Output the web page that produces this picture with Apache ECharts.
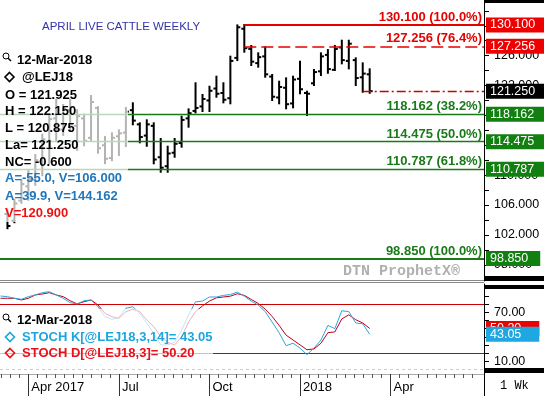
<!DOCTYPE html>
<html><head><meta charset="utf-8">
<script src="https://cdn.jsdelivr.net/npm/echarts@6/dist/echarts.min.js"></script>
<style>html,body{margin:0;padding:0;background:#fff}#c{width:544px;height:396px}</style>
</head><body><div id="c"></div>
<script>
// weeks relative to the week of 1-Jan-2018
const weeks  = [-42,-41,-40,-39,-38,-37,-36,-35,-34,-33,-32,-31,-30,-29,-28,-27,-26,-25,-24,-23,-22,-21,-20,-19,-18,-17,-16,-15,-14,-13,-12,-11,-10,-9,-8,-7,-6,-5,-4,-3,-2,-1,0,1,2,3,4,5,6,7,8,9,10];
const opens  = [104.8,103.9,106.6,108.5,109.4,111.8,114.5,117.6,116.1,118.7,116.6,117.6,115.0,119.0,114.0,112.3,115.2,115.7,118.7,116.8,115.3,116.6,112.4,111.2,113.0,114.3,117.6,118.6,119.2,120.0,121.6,121.0,120.3,125.7,129.6,126.9,125.0,125.9,123.2,120.4,121.7,119.6,122.9,121.0,122.3,123.9,126.1,124.1,127.1,125.3,125.4,123.1,123.5];
const highs  = [105.3,106.7,109.3,110.7,112.7,115.4,118.1,120.1,119.4,120.1,118.7,118.1,120.6,119.1,115.1,115.6,116.0,119.0,119.62,116.94,117.34,116.94,114.84,113.81,114.84,117.82,118.81,122.30,120.73,121.84,123.18,122.30,125.86,130.05,130.10,127.29,126.31,127.11,123.41,122.51,122.96,123.18,125.19,121.17,124.08,126.31,126.75,127.29,128.0,128.0,125.64,124.97,124.17];
const lows   = [102.9,103.7,106.3,106.7,108.7,110.0,111.6,114.7,115.4,116.0,113.4,114.0,114.7,113.0,111.6,112.0,112.7,113.9,116.81,114.40,113.94,111.59,110.46,110.46,112.47,113.81,116.49,118.41,118.59,118.59,120.50,119.75,119.62,125.41,126.53,124.75,124.52,123.18,120.06,119.62,118.95,119.08,120.96,118.05,122.07,123.41,123.71,124.08,124.97,124.30,122.07,121.17,121.03];
const closes = [103.2,106.2,108.8,109.5,112.0,114.8,117.5,116.0,118.9,116.8,117.9,114.6,119.8,113.6,112.2,115.0,115.6,118.5,117.3,115.1,116.8,112.1,111.0,112.9,114.2,117.4,118.3,119.0,120.2,121.3,120.9,120.1,125.3,129.8,127.0,125.2,125.8,123.5,120.5,121.8,119.5,122.8,121.5,120.9,123.8,125.9,124.2,126.9,125.4,127.6,123.0,123.6,121.25];

const stochWeeks = [-43,-42,-41,-40,-39,-38,-37,-36,-35,-34,-33,-32,-31,-30,-29,-28,-27,-26,-25,-24,-23,-22,-21,-20,-19,-18,-17,-16,-15,-14,-13,-12,-11,-10,-9,-8,-7,-6,-5,-4,-3,-2,-1,0,1,2,3,4,5,6,7,8,9,10];
const stochK = [90.2,89.4,87.4,86.2,89.4,91.5,94.3,95.5,91.5,87.4,82.0,80.4,84.4,85.3,77.0,64.7,61.5,64.0,75.1,77.0,68.9,56.6,44.3,29.9,30,33,48,67,83,84,89,89,91,92,95,90,84,79,71,58,45,29,32,26,18,26,36,54,50,72,71,57,56,43.05];
const stochD = [87.4,87.4,87.4,85.3,87.4,91.5,92.7,94.3,91.5,89.4,84.4,80.4,83.2,85.3,79.1,68.9,64.7,62.7,70.9,73.8,70.9,60.7,52.4,40.1,33,30,40,58,71,78,84,88,89,90,93,91,86,81,74,65,54,42,36,30,24,25,32,45,46,62,67,61,57,50.2];

const quarterTicks  = [-39,-26,-13,0,13];
const quarterLabels = ['Apr 2017','Jul','Oct','2018','Apr'];
const priceTicks    = [98,102,106,110,114,118,122,126,130];
const stochTicks    = [10,40,70];
const stochBands    = [80,20];

const fibLevels = [130.1,127.256,118.162,114.475,110.787,98.85];
const fibPct    = ['100.0%','76.4%','38.2%','50.0%','61.8%','100.0%'];
const fibFrom   = [-8,-8,null,null,null,null];
const lastClose = 121.25, lastFrom = 9;

const X_MIN = -43.07, X_MAX = 26.41;
const P_MIN = 95.83, P_MAX = 133.45;
const S_MIN = -5.87, S_MAX = 105.0;

const RED = '#e60000', GREEN = '#1a7a1a';
const FONT = '"Liberation Sans", Arial, sans-serif';

const ohlc = weeks.map((w,i)=>[w,opens[i],highs[i],lows[i],closes[i]]);
const kData = stochWeeks.map((w,i)=>[w,stochK[i]]);
const dData = stochWeeks.map((w,i)=>[w,stochD[i]]);

const minorTicks = [];
for (let q = -52; q <= 26; q += 13) for (let j = 1; j < 10; j++) {
  const v = q + j*1.3; if (v > X_MIN && v < X_MAX) minorTicks.push(v);
}
const priceMinor = []; for (let v = 96; v <= 132; v += 2) priceMinor.push(v);
const stochMinor = []; for (let v = 0; v <= 100; v += 10) stochMinor.push(v);

function renderOHLC(params, api){
  const x = api.value(0);
  const o = api.coord([x, api.value(1)]);
  const h = api.coord([x, api.value(2)]);
  const l = api.coord([x, api.value(3)]);
  const c = api.coord([x, api.value(4)]);
  const st = {stroke:'#000', lineWidth:2};
  return {type:'group', children:[
    {type:'line', shape:{x1:h[0],y1:h[1]-1,x2:l[0],y2:l[1]+1}, style:st},
    {type:'line', shape:{x1:o[0]-3,y1:o[1],x2:o[0],y2:o[1]}, style:st},
    {type:'line', shape:{x1:c[0],y1:c[1],x2:c[0]+3,y2:c[1]}, style:st}
  ]};
}

const HIDDEN_LINE = {color:'rgba(0,0,0,0)', width:0};
const fibLines = [];
fibLevels.forEach((lv,i)=>{
  const col = i < 2 ? RED : GREEN;
  const from = fibFrom[i] === null ? X_MIN : fibFrom[i];
  const wd = (i === 0 || i === 5) ? 2 : (i === 1 ? 1.5 : 1.3);
  fibLines.push([
    {coord:[from, lv], lineStyle:{color:col, width:wd, type: i===1 ? [12,5] : 'solid'},
     label:{show:true, position:'insideEndTop', distance:[2,1], color:col, fontWeight:'bold', fontSize:13, fontFamily:FONT,
            formatter: lv.toFixed(3) + ' (' + fibPct[i] + ')'}},
    {coord:[X_MAX, lv]}
  ]);
  fibLines.push([
    {coord:[X_MAX-0.01, lv], lineStyle:HIDDEN_LINE,
     label:{show:true, position:'end', distance:2, color:'#fff', backgroundColor: i<2 ? '#ee0000' : '#118011',
            fontSize:12.5, fontFamily:FONT, padding:[1,12,1,4], lineHeight:13, formatter: lv.toFixed(3)}},
    {coord:[X_MAX, lv]}
  ]);
});
fibLines.push([
  {coord:[lastFrom, lastClose], lineStyle:{color:'#cc0000', width:1.3, type:[9,3,2,3]}, label:{show:false}},
  {coord:[X_MAX, lastClose]}
]);
fibLines.push([
  {coord:[X_MAX-0.01, lastClose], lineStyle:HIDDEN_LINE,
   label:{show:true, position:'end', distance:2, color:'#fff', backgroundColor:'#000',
          fontSize:12.5, fontFamily:FONT, padding:[1,12,1,4], lineHeight:13, formatter: lastClose.toFixed(3)}},
  {coord:[X_MAX, lastClose]}
]);

const stochMarks = [];
stochBands.forEach(b=>stochMarks.push({yAxis:b, lineStyle:{color:'#cc0000', width:1, type:'solid'}, label:{show:false}}));
const kLast = stochK[stochK.length-1], dLast = stochD[stochD.length-1];

function boxLabel(v, bg){
  return [{coord:[X_MAX-0.01, v], lineStyle:HIDDEN_LINE,
    label:{show:true, position:'end', distance:2, color:'#fff', backgroundColor:bg, fontSize:12.5, fontFamily:FONT,
           padding:[1,18,1,4], lineHeight:13, formatter: v.toFixed(2)}}, {coord:[X_MAX, v]}];
}

const legendTxt = (x,y,t,col,extra)=>Object.assign({type:'text', x:x, y:y, z:101,
  style:{text:t, fill:col, font:'bold 13px ' + FONT, textVerticalAlign:'middle'}}, extra||{});
const magnifier = (x,y)=>[
  {type:'circle', shape:{cx:x, cy:y, r:3}, style:{stroke:'#000', fill:'none', lineWidth:1}, z:101},
  {type:'line', shape:{x1:x+2.2,y1:y+2.2,x2:x+5,y2:y+5}, style:{stroke:'#000', lineWidth:1.5}, z:101}
];
const diamond = (x,y,col)=>({type:'polygon', shape:{points:[[x,y-4.5],[x+4.5,y],[x,y+4.5],[x-4.5,y]]},
  style:{stroke:col, fill:'none', lineWidth:1.6}, z:101});

const chart = echarts.init(document.getElementById('c'), null, {renderer:'canvas'});
chart.setOption({
  animation:false,
  backgroundColor:'#fff',
  grid:[
    {left:0, top:0, width:484, height:281},
    {left:0, top:284, width:484, height:90}
  ],
  xAxis:[
    {type:'value', gridIndex:0, min:X_MIN, max:X_MAX, show:false},
    {type:'value', gridIndex:1, min:X_MIN, max:X_MAX, position:'bottom',
     axisLine:{show:true, onZero:false, lineStyle:{color:'#aaa', width:1}},
     axisTick:{show:true, customValues:minorTicks, length:4, lineStyle:{color:'#555'}},
     axisLabel:{show:false}, splitLine:{show:false}},
    {type:'value', gridIndex:1, min:X_MIN, max:X_MAX, position:'bottom',
     axisLine:{show:false, onZero:false},
     axisTick:{show:true, customValues:quarterTicks, length:22, lineStyle:{color:'#333', width:1}},
     axisLabel:{show:true, customValues:quarterTicks, align:'left', margin:7, padding:[0,0,0,3],
                color:'#000', fontSize:13, fontFamily:FONT,
                formatter:(v)=>{const i=quarterTicks.indexOf(Math.round(v)); return i>=0?quarterLabels[i]:'';}},
     splitLine:{show:false}}
  ],
  yAxis:[
    {type:'value', gridIndex:0, position:'right', min:P_MIN, max:P_MAX,
     axisLine:{show:true, onZero:false, lineStyle:{color:'#000', width:1}},
     axisTick:{show:true, customValues:priceMinor, length:5, lineStyle:{color:'#000'}},
     axisLabel:{show:true, customValues:priceTicks, margin:10, color:'#000', fontSize:12.5, fontFamily:FONT,
                formatter:(v)=>v.toFixed(3)},
     splitLine:{show:false}},
    {type:'value', gridIndex:1, position:'right', min:S_MIN, max:S_MAX,
     axisLine:{show:true, onZero:false, lineStyle:{color:'#000', width:1}},
     axisTick:{show:true, customValues:stochMinor, length:5, lineStyle:{color:'#000'}},
     axisLabel:{show:true, customValues:stochTicks, margin:10, color:'#000', fontSize:12.5, fontFamily:FONT,
                formatter:(v)=>v.toFixed(2)},
     splitLine:{show:false}}
  ],
  series:[
    {type:'custom', xAxisIndex:0, yAxisIndex:0, renderItem:renderOHLC, data:ohlc, z:3,
     encode:{x:0, y:[1,2,3,4]}, clip:true},
    {type:'line', xAxisIndex:0, yAxisIndex:0, data:[], clip:false, silent:true, z:4,
     markLine:{symbol:'none', silent:true, animation:false, precision:3, data:fibLines}},
    {type:'line', xAxisIndex:1, yAxisIndex:1, data:kData, showSymbol:false, z:5,
     lineStyle:{color:'#2fa6d9', width:1}, clip:false,
     markLine:{symbol:'none', silent:true, animation:false, data:stochMarks}},
    {type:'line', xAxisIndex:1, yAxisIndex:1, data:dData, showSymbol:false, z:4,
     lineStyle:{color:'#c0001a', width:1}, clip:false},
    {type:'line', xAxisIndex:1, yAxisIndex:1, data:[], clip:false, silent:true, z:6,
     markLine:{symbol:'none', silent:true, animation:false, data:[boxLabel(dLast,'#ee0000'), boxLabel(kLast,'#1ea7e1')]}}
  ],
  graphic:[
    {type:'text', x:42, y:27, z:101, style:{text:'APRIL LIVE CATTLE WEEKLY', fill:'#3333aa', font:'11.5px ' + FONT, textVerticalAlign:'middle'}},
    {type:'text', x:343, y:271, z:1, style:{text:'DTN ProphetX®', fill:'#b0b0b0', font:'bold 15px "Liberation Mono", monospace', textVerticalAlign:'middle'}},
    {type:'rect', shape:{x:0, y:50, width:128, height:172}, style:{fill:'rgba(255,255,255,0.7)'}, z:100},
    {type:'rect', shape:{x:0, y:309, width:213, height:53}, style:{fill:'rgba(255,255,255,0.7)'}, z:100},
    ...magnifier(6,56),
    legendTxt(17,60,'12-Mar-2018','#000'),
    diamond(9.5,77,'#000'),
    legendTxt(22,77,'@LEJ18','#000'),
    legendTxt(5,95,'O = 121.925','#000'),
    legendTxt(5,111,'H = 122.150','#000'),
    legendTxt(5,128,'L = 120.875','#000'),
    legendTxt(5,145,'La= 121.250','#000'),
    legendTxt(5,162,'NC= -0.600','#000'),
    legendTxt(5,178,'A=-55.0, V=106.000','#2277bb'),
    legendTxt(5,196,'A=39.9, V=144.162','#2277bb'),
    legendTxt(5,213,'V=120.900','#ee1111'),
    ...magnifier(6,317),
    legendTxt(17,320,'12-Mar-2018','#000'),
    diamond(10,337,'#1ca6e0'),
    legendTxt(22,337,'STOCH K[@LEJ18,3,14]= 43.05','#1ca6e0'),
    diamond(10,353,'#e8101a'),
    legendTxt(22,353,'STOCH D[@LEJ18,3]= 50.20','#e8101a'),
    {type:'line', shape:{x1:0,y1:280.5,x2:484,y2:280.5}, style:{stroke:'#888', lineWidth:1}, z:10},
    {type:'line', shape:{x1:0,y1:282.5,x2:484,y2:282.5}, style:{stroke:'#888', lineWidth:1}, z:10},
    {type:'line', shape:{x1:0,y1:369.5,x2:484,y2:369.5}, style:{stroke:'#ccc', lineWidth:1, lineDash:[3,3]}, z:1},
    {type:'line', shape:{x1:484.5,y1:374,x2:484.5,y2:396}, style:{stroke:'#000', lineWidth:1}, z:10},
    {type:'rect', shape:{x:485, y:0, width:59, height:3}, style:{fill:'#000'}, z:10},
    {type:'rect', shape:{x:485, y:276, width:59, height:5}, style:{fill:'#000'}, z:10},
    {type:'rect', shape:{x:485, y:285, width:59, height:4}, style:{fill:'#000'}, z:10},
    {type:'rect', shape:{x:485, y:368, width:59, height:5}, style:{fill:'#000'}, z:10},
    {type:'text', x:500, y:386, z:10, style:{text:'1 Wk', fill:'#000', font:'12px "Liberation Mono", monospace', textVerticalAlign:'middle'}}
  ]
});
</script></body></html>
